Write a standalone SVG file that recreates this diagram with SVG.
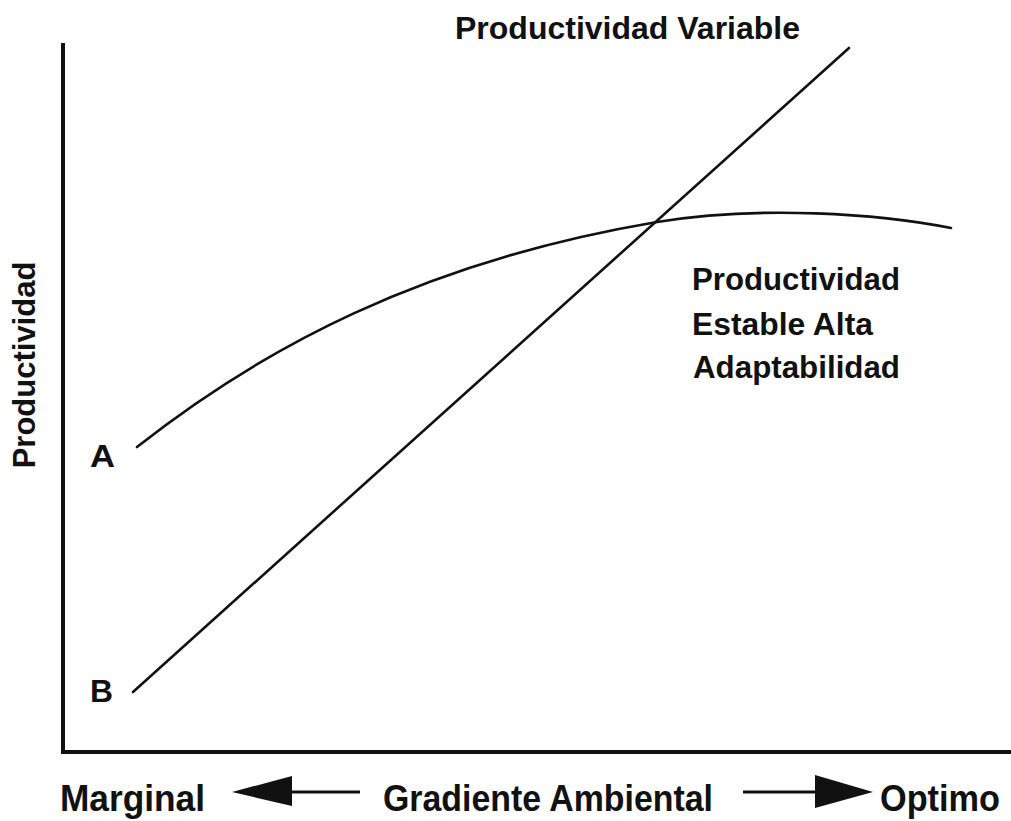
<svg xmlns="http://www.w3.org/2000/svg" width="1011" height="821" viewBox="0 0 1011 821">
  <style>
    .lbl { font-family: "Liberation Sans", Arial, sans-serif; font-weight: bold; fill: #111; }
    .axis { fill: none; stroke: #111; stroke-width: 4; stroke-linejoin: miter; }
    .curve { fill: none; stroke: #111; stroke-width: 2.6; stroke-linecap: round; }
    .shaft { stroke: #111; stroke-width: 3; }
    .head { fill: #111; }
  </style>
  <rect width="1011" height="821" fill="#ffffff"/>

  <!-- axes -->
  <g id="axes">
    <path class="axis" d="M63,43 L63,752 L1011,752"/>
  </g>

  <!-- curves -->
  <g id="connectors">
    <path id="curve-a" class="curve" d="M137,447 C260,350 420,262 657,222 C760,205 880,214 951,228"/>
    <path id="line-b" class="curve" d="M133,692 L849,48"/>
  </g>

  <!-- axis titles and curve labels -->
  <g id="y-title">
    <text class="lbl" font-size="31" transform="translate(35,365) rotate(-90)" text-anchor="middle">Productividad</text>
  </g>
  <g id="label-a">
    <text class="lbl" font-size="32" x="90" y="467" textLength="25" lengthAdjust="spacingAndGlyphs">A</text>
  </g>
  <g id="label-b">
    <text class="lbl" font-size="32" x="90" y="702" textLength="23" lengthAdjust="spacingAndGlyphs">B</text>
  </g>
  <g id="label-variable">
    <text class="lbl" font-size="32" x="455" y="39" textLength="345" lengthAdjust="spacingAndGlyphs">Productividad Variable</text>
  </g>
  <g id="label-estable">
    <text class="lbl" font-size="31" x="692" y="290" textLength="208" lengthAdjust="spacingAndGlyphs">Productividad</text>
    <text class="lbl" font-size="31" x="692" y="335" textLength="181" lengthAdjust="spacingAndGlyphs">Estable Alta</text>
    <text class="lbl" font-size="31" x="693" y="378" textLength="207" lengthAdjust="spacingAndGlyphs">Adaptabilidad</text>
  </g>

  <!-- gradient axis -->
  <g id="gradient">
    <text class="lbl" font-size="37" x="60" y="811" textLength="145" lengthAdjust="spacingAndGlyphs">Marginal</text>
    <line class="shaft" x1="290" y1="792" x2="360" y2="792"/>
    <polygon class="head" points="232,792 292,776 292,806"/>
    <text class="lbl" font-size="37" x="383" y="811" textLength="330" lengthAdjust="spacingAndGlyphs">Gradiente Ambiental</text>
    <line class="shaft" x1="743" y1="792" x2="817" y2="792"/>
    <polygon class="head" points="873,792 815,775 815,808"/>
    <text class="lbl" font-size="37" x="880" y="811" textLength="120" lengthAdjust="spacingAndGlyphs">Optimo</text>
  </g>
</svg>
